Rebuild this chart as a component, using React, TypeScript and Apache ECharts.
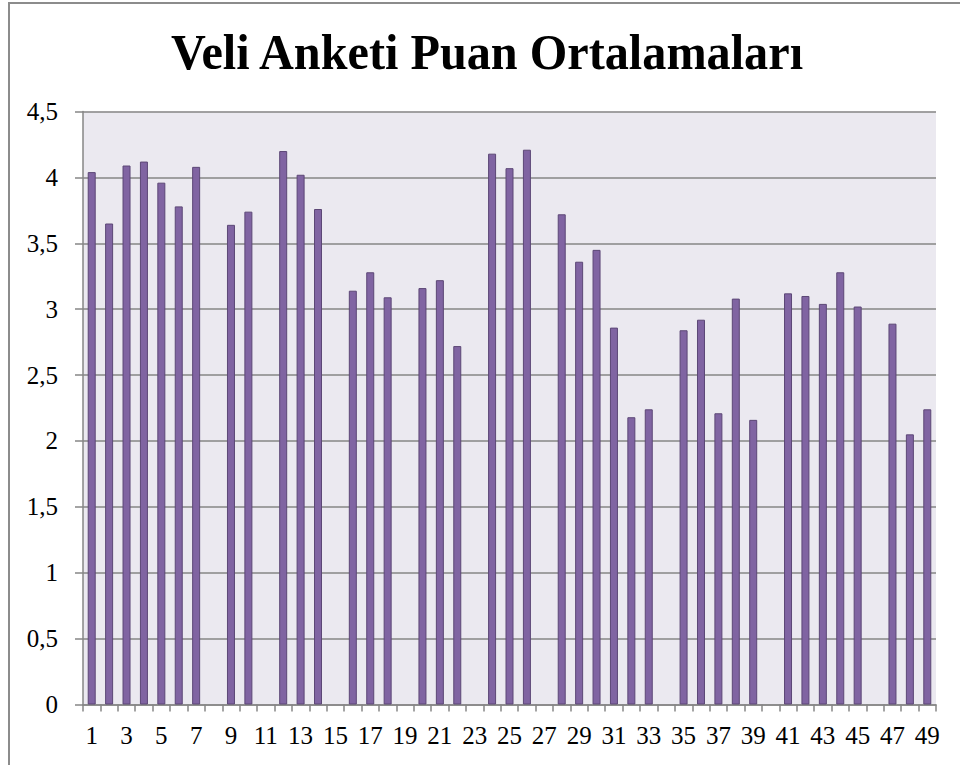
import React, { useEffect, useRef } from "react";
import * as echarts from "echarts";

const categories: string[] = Array.from({ length: 49 }, (_, i) => String(i + 1));
const values: (number | null)[] = [
  4.04, 3.65, 4.09, 4.12, 3.96, 3.78, 4.08, null, 3.64, 3.74,
  null, 4.2, 4.02, 3.76, null, 3.14, 3.28, 3.09, null, 3.16,
  3.22, 2.72, null, 4.18, 4.07, 4.21, null, 3.72, 3.36, 3.45,
  2.86, 2.18, 2.24, null, 2.84, 2.92, 2.21, 3.08, 2.16, null,
  3.12, 3.1, 3.04, 3.28, 3.02, null, 2.89, 2.05, 2.24,
];
const titleText = "Veli Anketi Puan Ortalamaları";

export default function App() {
  const ref = useRef<HTMLDivElement>(null);
  useEffect(() => {
    if (!ref.current) return;
    const chart = echarts.init(ref.current, null, { renderer: "svg" });
    const font = "Liberation Serif";
    chart.setOption({
      animation: false,
      backgroundColor: "#ffffff",
      textStyle: { fontFamily: font },
      graphic: [
        {
          type: "rect",
          shape: { x: 9, y: 3, width: 1000, height: 800 },
          style: { fill: "none", stroke: "#8c8c8c", lineWidth: 2 },
          silent: true,
        },
        {
          type: "text",
          x: 487,
          y: 52,
          scaleX: 0.965,
          style: {
            text: titleText,
            fontFamily: font,
            fontWeight: "bold",
            fontSize: 50,
            fill: "#000",
            align: "center",
            verticalAlign: "middle",
          },
        },
      ],
      grid: {
        left: 83,
        right: 24,
        top: 111.5,
        bottom: 60.5,
        show: true,
        backgroundColor: "#ebe9f0",
        borderWidth: 0,
      },
      xAxis: [
        {
          type: "category",
          data: categories,
          boundaryGap: true,
          axisLine: { show: true, lineStyle: { color: "#868686", width: 1.5 } },
          axisTick: { show: true, interval: 0, length: 7, lineStyle: { color: "#868686", width: 1.5 } },
          axisLabel: {
            show: true,
            interval: 1,
            fontFamily: font,
            fontSize: 25,
            color: "#000",
            margin: 18,
          },
          splitLine: { show: false },
        },
      ],
      yAxis: [
        {
          type: "value",
          min: 0,
          max: 4.5,
          interval: 0.5,
          axisLine: { show: true, lineStyle: { color: "#868686", width: 1.5 } },
          axisTick: { show: true, length: 8, lineStyle: { color: "#868686", width: 1.5 } },
          axisLabel: {
            show: true,
            fontFamily: font,
            fontSize: 25,
            color: "#000",
            margin: 25,
            formatter: (v: number) => String(v).replace(".", ","),
          },
          splitLine: { show: true, lineStyle: { color: "#868686", width: 1.5 } },
        },
      ],
      series: [
        {
          type: "bar",
          data: values,
          barWidth: 8,
          itemStyle: { color: "#8064a2", borderColor: "#5c4776", borderWidth: 1 },
        },
      ],
    });
    return () => chart.dispose();
  }, []);
  return (
    <div
      ref={ref}
      style={{ position: "fixed", left: 0, top: 0, width: 960, height: 765 }}
    />
  );
}
